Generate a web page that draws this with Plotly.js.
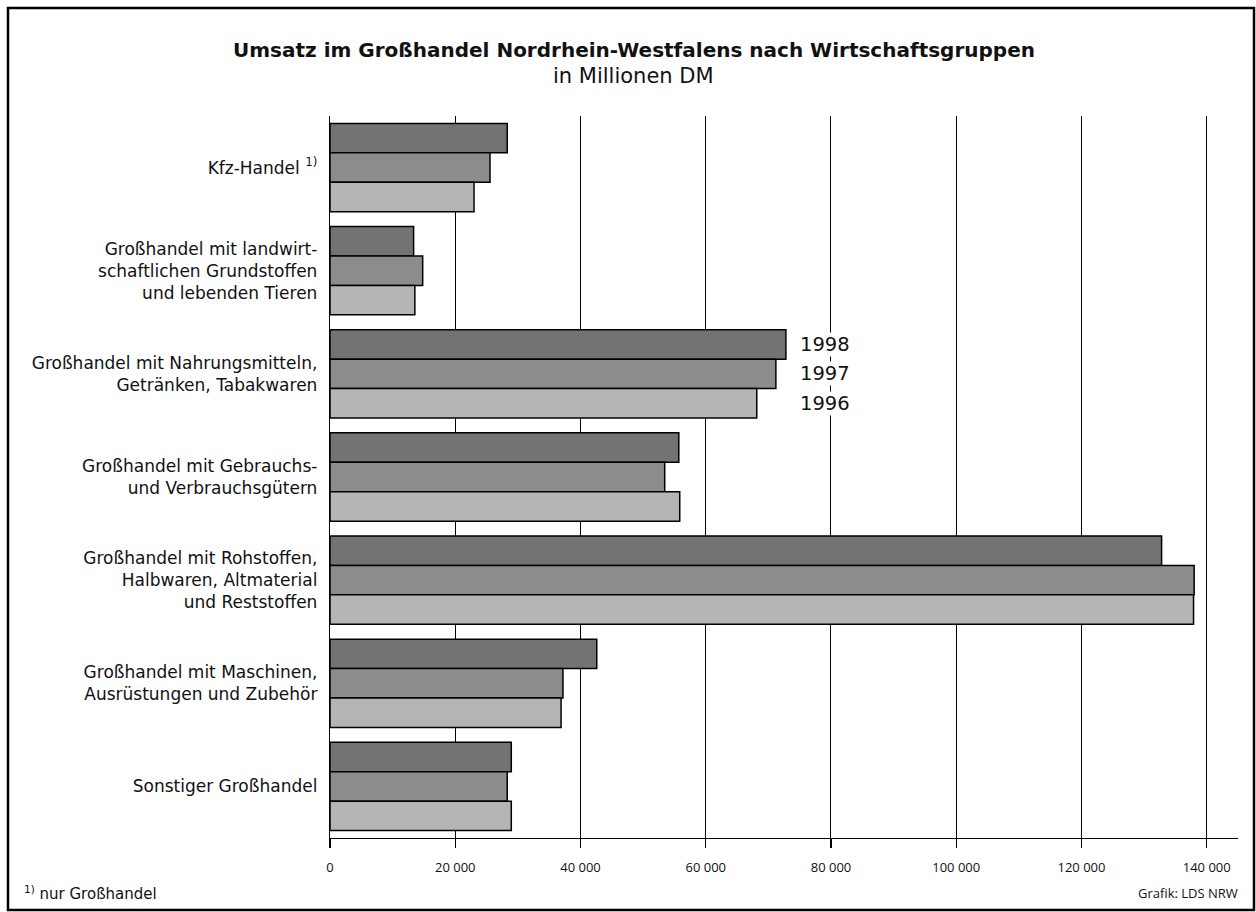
<!DOCTYPE html>
<html>
<head>
<meta charset="utf-8">
<script src="https://cdn.plot.ly/plotly-3.0.1.min.js"></script>
<style>
  html, body { margin: 0; padding: 0; background: #ffffff; }
  #chart { width: 1256px; height: 912px; }
</style>
</head>
<body>
<div id="chart"></div>
<script>
// ---- data ----
const categories = [
  "Kfz-Handel <sup>1)</sup>",
  "Großhandel mit landwirt-<br>schaftlichen Grundstoffen<br>und lebenden Tieren",
  "Großhandel mit Nahrungsmitteln,<br>Getränken, Tabakwaren",
  "Großhandel mit Gebrauchs-<br>und Verbrauchsgütern",
  "Großhandel mit Rohstoffen,<br>Halbwaren, Altmaterial<br>und Reststoffen",
  "Großhandel mit Maschinen,<br>Ausrüstungen und Zubehör",
  "Sonstiger Großhandel"
];
const years = ["1998", "1997", "1996"];
const values1998 = [28300, 13350, 72800, 55700, 132800, 42600, 28950];
const values1997 = [25550, 14800, 71200, 53450, 138000, 37200, 28300];
const values1996 = [23000, 13550, 68150, 55850, 137900, 36900, 28950];
const seriesValues = [values1998, values1997, values1996];
const xTickVals = [0, 20000, 40000, 60000, 80000, 100000, 120000, 140000];
const labelCategoryIndex = 2; // year labels placed beside the Nahrungsmittel group

// ---- styles ----
const barColors = ["#737373", "#8c8c8c", "#b5b5b5"];
const FONT = "DejaVu Sans, Verdana, sans-serif";
const FONT2 = "Open Sans, Noto Sans, sans-serif";
const W = 1256, H = 912;
const M = {l: 330, r: 18, t: 116, b: 74};
const BARGAP = 0.144;

const traces = years.map((yr, i) => ({
  type: "bar",
  orientation: "h",
  name: yr,
  y: categories,
  x: seriesValues[i],
  marker: {color: barColors[i], line: {color: "#000000", width: 1.5}},
  hoverinfo: "x+name"
}));

const plotW = W - M.l - M.r;
const plotH = H - M.t - M.b;
const catPx = plotH / categories.length;
const barPx = catPx * (1 - BARGAP) / years.length;

const annotations = years.map((yr, i) => ({
  xref: "x", yref: "y",
  x: Math.max(...seriesValues.map(s => s[labelCategoryIndex])),
  y: categories[labelCategoryIndex],
  xanchor: "left", yanchor: "middle",
  xshift: 13,
  yshift: (1 - i) * barPx,
  text: yr,
  showarrow: false,
  bgcolor: "#ffffff",
  borderpad: 0,
  font: {family: FONT, size: 19.5, color: "#111111"}
}));

annotations.push({
  xref: "paper", yref: "paper",
  x: (633 - M.l) / plotW, y: 1 + (M.t - 76) / plotH, xanchor: "center", yanchor: "middle",
  text: "in Millionen DM", showarrow: false,
  font: {family: FONT, size: 21, color: "#111111"}
});
annotations.push({
  xref: "paper", yref: "paper",
  x: -(M.l - 22) / plotW, y: -(893 - (H - M.b)) / plotH,
  xanchor: "left", yanchor: "middle",
  text: "<sup>1)</sup> nur Großhandel", showarrow: false,
  font: {family: FONT, size: 15, color: "#111111"}
});
annotations.push({
  xref: "paper", yref: "paper",
  x: 1 + 2 / plotW, y: -(893 - (H - M.b)) / plotH,
  xanchor: "right", yanchor: "middle",
  text: "Grafik: LDS NRW", showarrow: false,
  font: {family: FONT2, size: 13, color: "#111111"}
});

const frame = {
  type: "rect", xref: "paper", yref: "paper",
  x0: (8 - M.l) / plotW, x1: (1254 - M.l) / plotW,
  y0: -(910 - (H - M.b)) / plotH, y1: 1 + (M.t - 8) / plotH,
  line: {color: "#000000", width: 2.5}, fillcolor: "rgba(0,0,0,0)", layer: "above"
};

const layout = {
  width: W, height: H,
  margin: M,
  paper_bgcolor: "#ffffff",
  plot_bgcolor: "#ffffff",
  separators: ". ",
  showlegend: false,
  barmode: "group",
  bargap: BARGAP,
  bargroupgap: 0,
  font: {family: FONT, color: "#111111"},
  title: {
    text: "<b>Umsatz im Großhandel Nordrhein-Westfalens nach Wirtschaftsgruppen</b>",
    x: 634 / W, xanchor: "center",
    y: 1 - 50 / H, yanchor: "middle",
    xref: "container", yref: "container",
    font: {family: FONT, size: 20, color: "#111111"}
  },
  xaxis: {
    range: [0, 145000],
    tickvals: xTickVals,
    tickformat: ",d",
    showgrid: true, gridcolor: "#000000", gridwidth: 1,
    zeroline: false,
    showline: true, linecolor: "#000000", linewidth: 1.2,
    ticks: "outside", ticklen: 9, tickwidth: 1.2, tickcolor: "#000000",
    ticklabelstandoff: 8,
    tickfont: {family: FONT2, size: 13, color: "#111111"},
    fixedrange: true
  },
  yaxis: {
    type: "category",
    range: [categories.length - 0.5, -0.5],
    showgrid: false,
    zeroline: false,
    showline: true, linecolor: "#000000", linewidth: 1.2,
    ticks: "",
    ticklabelstandoff: 8,
    tickfont: {family: FONT, size: 17, color: "#111111"},
    fixedrange: true
  },
  annotations: annotations,
  shapes: [frame]
};

Plotly.newPlot("chart", traces, layout, {displayModeBar: false, staticPlot: true});
</script>
</body>
</html>
